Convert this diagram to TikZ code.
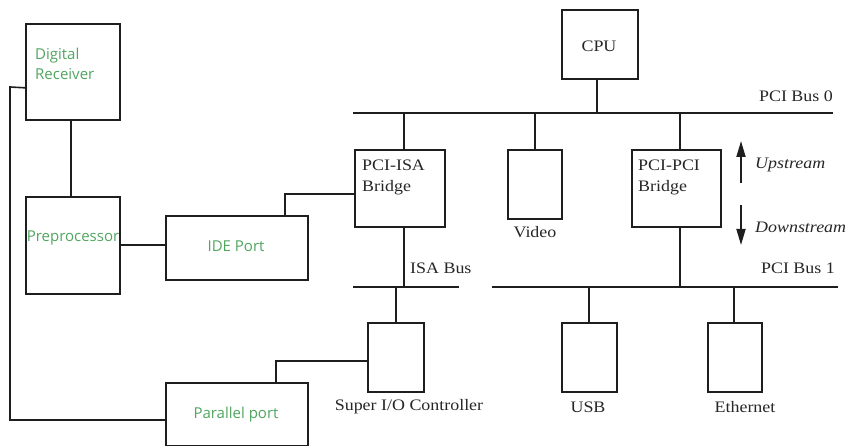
\documentclass[tikz,border=0pt]{standalone}
\usepackage{fontspec}
\usetikzlibrary{arrows.meta}
\newfontfamily\diagserif[FakeStretch=1.12]{Liberation Serif}
\newfontfamily\diagsans{Open Sans}
\definecolor{lbl}{RGB}{80,165,95}
\definecolor{ln}{RGB}{30,30,30}
\begin{document}
\begin{tikzpicture}[x=1pt,y=-1pt,
  blk/.style={draw=ln,line width=1.6pt,rectangle,inner sep=0pt,anchor=north west},
  wire/.style={draw=ln,line width=1.6pt},
  btxt/.style={font=\diagserif\fontsize{16}{21}\selectfont,inner sep=0pt,text=black!85},
  gtxt/.style={font=\diagsans\fontsize{15}{19.5}\selectfont,inner sep=0pt,text=lbl},
  itxt/.style={font=\diagserif\itshape\fontsize{16}{21}\selectfont,inner sep=0pt,text=black!85},
  dirarrow/.style={draw=ln,line width=1.8pt,-{Triangle[length=16pt,width=9pt]}}]
\useasboundingbox (0,0) rectangle (851,446);
% boxes
\node[blk,minimum width=94pt,minimum height=96pt] (dr) at (25,23) {};
\node[blk,minimum width=94pt,minimum height=97pt] (pre) at (25,196) {};
\node[blk,minimum width=142pt,minimum height=64pt] (ide) at (165,215) {};
\node[blk,minimum width=142pt,minimum height=63pt] (pp) at (165,382) {};
\node[blk,minimum width=76pt,minimum height=69pt] (cpu) at (561,9) {};
\node[blk,minimum width=90pt,minimum height=77pt] (isab) at (354,149) {};
\node[blk,minimum width=54pt,minimum height=69pt] (video) at (507,149) {};
\node[blk,minimum width=89pt,minimum height=77pt] (pcib) at (631,149) {};
\node[blk,minimum width=56pt,minimum height=69pt] (sio) at (367,322) {};
\node[blk,minimum width=55pt,minimum height=69pt] (usb) at (561,322) {};
\node[blk,minimum width=54pt,minimum height=69pt] (eth) at (707,322) {};
% bus coordinates
\coordinate (b0l) at (353,113);
\coordinate (b0r) at (833,113);
\coordinate (isl) at (353,287);
\coordinate (isr) at (459,287);
\coordinate (b1l) at (492,287);
\coordinate (b1r) at (838,287);
\coordinate (lt) at (10,87);
\coordinate (lb) at (10,420);
\coordinate (ua) at (741,183);
\coordinate (ub) at (741,141);
\coordinate (da) at (741,205);
\coordinate (db) at (741,245);
% buses
\draw[wire] (b0l) -- (b0r);
\draw[wire] (isl) -- (isr);
\draw[wire] (b1l) -- (b1r);
% connectors
\draw[wire] ([xshift=-3pt]cpu.south) -- ([xshift=-3pt]cpu.south |- b0l);
\draw[wire] ([xshift=4pt]isab.north) -- ([xshift=4pt]isab.north |- b0l);
\draw[wire] (video.north) -- (video.north |- b0l);
\draw[wire] ([xshift=3.5pt]pcib.north) -- ([xshift=3.5pt]pcib.north |- b0l);
\draw[wire] ([xshift=4pt]isab.south) -- ([xshift=4pt]isab.south |- isl);
\draw[wire] ([xshift=3.5pt]pcib.south) -- ([xshift=3.5pt]pcib.south |- b1l);
\draw[wire] (sio.north) -- (sio.north |- isl);
\draw[wire] ([xshift=-0.5pt]usb.north) -- ([xshift=-0.5pt]usb.north |- b1l);
\draw[wire] ([xshift=-1pt]eth.north) -- ([xshift=-1pt]eth.north |- b1l);
\draw[wire] ([xshift=-2pt]dr.south) -- ([xshift=-2pt]pre.north);
\draw[wire] (pre.east) -- (pre.east -| ide.west);
\draw[wire] ([xshift=48pt]ide.north) |- ([yshift=-5.5pt]isab.west);
\draw[wire] ([xshift=39pt]pp.north) |- ([yshift=-3.5pt]sio.west);
\draw[wire] ([yshift=-16pt]dr.west) -- (lt) -- (lb) -- (lb -| pp.west);
% direction arrows
\draw[dirarrow] (ua) -- (ub);
\draw[dirarrow] (da) -- (db);
% texts
\node[btxt] (tcpu) at (599,46) {CPU};
\node[btxt,anchor=east] (tb0) at (833,96) {PCI Bus 0};
\node[btxt,anchor=east] (tb1) at (835,268) {PCI Bus 1};
\node[btxt,anchor=west] (tisa) at (410,268) {ISA Bus};
\node[btxt,anchor=north west,align=left] (tisab) at (362,160) {PCI-ISA\\Bridge};
\node[btxt,anchor=north west,align=left] (tpcib) at (638,160) {PCI-PCI\\Bridge};
\node[btxt] (tvid) at (535,232) {Video};
\node[btxt] (tsio) at (409,407) {Super I/O Controller};
\node[btxt] (tusb) at (588,407) {USB};
\node[btxt] (teth) at (745,407) {Ethernet};
\node[itxt,anchor=west] (tup) at (755,165) {Upstream};
\node[itxt,anchor=west] (tdown) at (755,227) {Downstream};
\node[gtxt,anchor=north west,align=left] (tdr) at (35,48) {Digital\\Receiver};
\node[gtxt] (tpre) at (73,238) {Preprocessor};
\node[gtxt] (tide) at (236,246) {IDE Port};
\node[gtxt] (tpp) at (236,415) {Parallel port};
\end{tikzpicture}
\end{document}
